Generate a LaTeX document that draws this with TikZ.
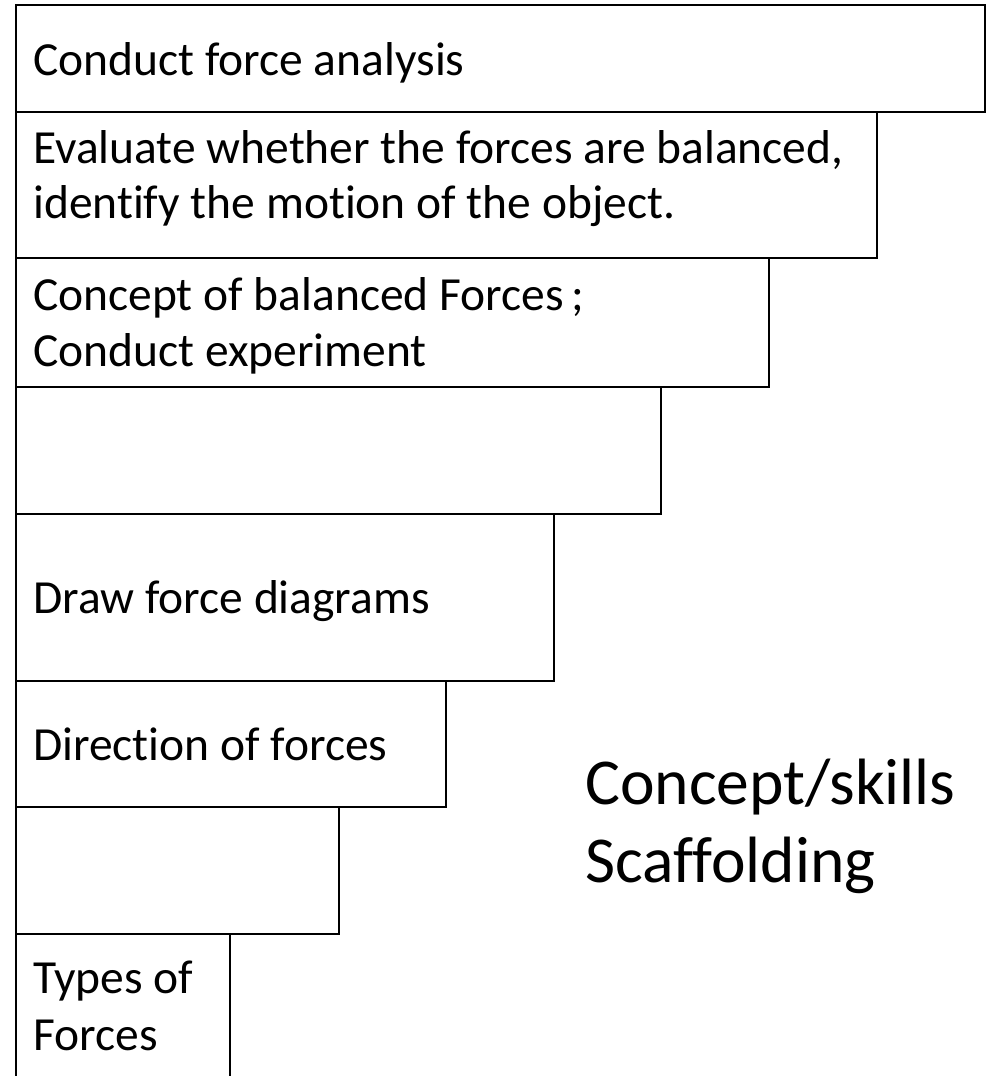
\documentclass[tikz,border=0pt]{standalone}
\usepackage{fontspec}
\setmainfont[Ligatures={NoCommon}]{Carlito}
\begin{document}
\begin{tikzpicture}[x=1pt,y=-1pt,
  boxline/.style={draw=black,line width=2pt},
  lbl/.style={anchor=base west,inner sep=0pt,font=\fontsize{47.5}{56}\selectfont},
  big/.style={anchor=base west,inner sep=0pt,font=\fontsize{65.5}{78}\selectfont}]
\useasboundingbox[fill=white] (0,0) rectangle (989,1076);
% steps
\draw[boxline] (16,5) rectangle (985,112);
\draw[boxline] (16,112) rectangle (877,258);
\draw[boxline] (16,258) rectangle (769,387);
\draw[boxline] (16,387) rectangle (661,514);
\draw[boxline] (16,514) rectangle (554,681);
\draw[boxline] (16,681) rectangle (446,807);
\draw[boxline] (16,807) rectangle (339,934);
\draw[boxline] (16,1076) -- (16,934) -- (230,934) -- (230,1076);
% labels
\node[lbl] (t1) at (33,75) {Conduct force analysis};
\node[lbl] (t2a) at (33,163) {Evaluate whether the forces are balanced,};
\node[lbl] (t2b) at (33,218) {identify the motion of the object.};
\node[lbl] (t3a) at (33,310) {Concept of balanced Forces\,;};
\node[lbl] (t3b) at (33,366) {Conduct experiment};
\node[lbl] (t5) at (33,613) {Draw force diagrams};
\node[lbl] (t6) at (33,760) {Direction of forces};
\node[lbl] (t8a) at (33,993) {Types of};
\node[lbl] (t8b) at (33,1050) {Forces};
\node[big] (s1) at (585,804) {Concept/skills};
\node[big] (s2) at (585,882) {Scaffolding};
\end{tikzpicture}
\end{document}
